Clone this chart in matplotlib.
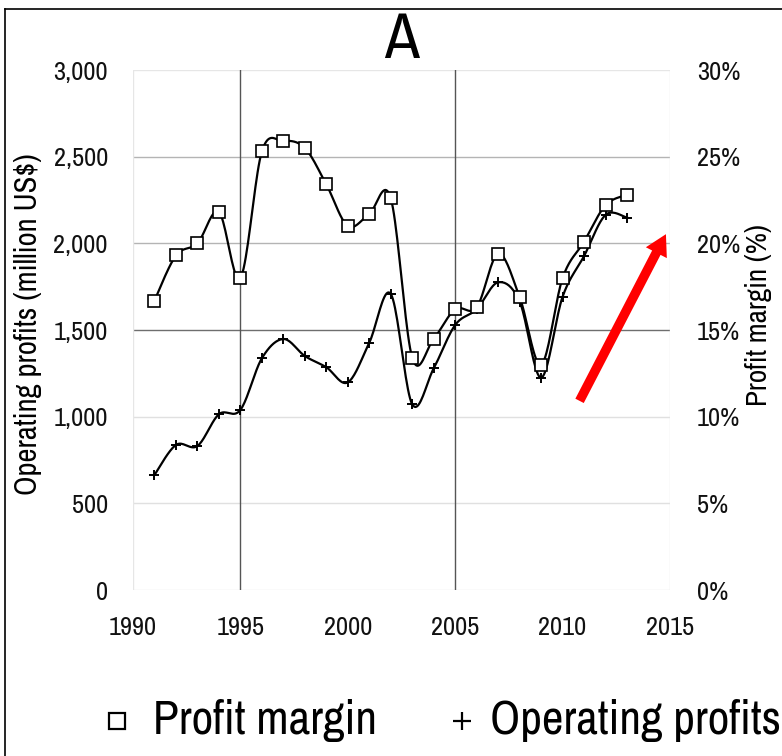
import numpy as np
import matplotlib
matplotlib.use("Agg")
import matplotlib.pyplot as plt
from matplotlib.lines import Line2D
from matplotlib.patches import FancyArrowPatch
from matplotlib.ticker import FuncFormatter
from matplotlib import font_manager

# pick a narrow/condensed sans font if installed
narrow = None
for f in font_manager.fontManager.ttflist:
    nm = f.name
    if any(k in nm for k in ('Narrow', 'Condensed')) and 'Mono' not in nm and 'Serif' not in nm:
        narrow = nm
        break
fams = ([narrow] if narrow else []) + ['Liberation Sans', 'DejaVu Sans']
plt.rcParams['font.family'] = fams
has_narrow = narrow is not None

years = [1991, 1992, 1993, 1994, 1995, 1996, 1997, 1998, 1999, 2000, 2001, 2002,
         2003, 2004, 2005, 2006, 2007, 2008, 2009, 2010, 2011, 2012, 2013]
profit_margin = [16.7, 19.3, 20.0, 21.8, 18.0, 25.3, 25.9, 25.5, 23.4, 21.0, 21.7, 22.6,
                 13.4, 14.5, 16.2, 16.3, 19.4, 16.9, 13.0, 18.0, 20.1, 22.2, 22.8]
operating_profits = [664, 837, 831, 1014, 1039, 1337, 1448, 1350, 1285, 1198, 1427, 1708,
                     1071, 1279, 1529, 1620, 1775, 1664, 1225, 1692, 1927, 2164, 2148]
x_ticks = [1990, 1995, 2000, 2005, 2010, 2015]
y_ticks = [0, 500, 1000, 1500, 2000, 2500, 3000]
pct_ticks = [0, 5, 10, 15, 20, 25, 30]
arrow_start = (2010.73, 1077)
arrow_end = (2014.87, 2067)


def smooth(x, y, n=20):
    """Excel-like smoothed line (uniform Catmull-Rom through the points)."""
    x = np.asarray(x, float)
    y = np.asarray(y, float)
    px = np.concatenate([[x[0]], x, [x[-1]]])
    py = np.concatenate([[y[0]], y, [y[-1]]])
    xs, ys = [], []
    t = np.linspace(0, 1, n, endpoint=False)
    for i in range(1, len(px) - 2):
        p0x, p1x, p2x, p3x = px[i - 1], px[i], px[i + 1], px[i + 2]
        p0y, p1y, p2y, p3y = py[i - 1], py[i], py[i + 1], py[i + 2]
        c1x = p1x + (p2x - p0x) / 6
        c1y = p1y + (p2y - p0y) / 6
        c2x = p2x - (p3x - p1x) / 6
        c2y = p2y - (p3y - p1y) / 6
        b0 = (1 - t) ** 3
        b1 = 3 * (1 - t) ** 2 * t
        b2 = 3 * (1 - t) * t ** 2
        b3 = t ** 3
        xs.append(b0 * p1x + b1 * c1x + b2 * c2x + b3 * p2x)
        ys.append(b0 * p1y + b1 * c1y + b2 * c2y + b3 * p2y)
    xs.append([x[-1]])
    ys.append([y[-1]])
    return np.concatenate(xs), np.concatenate(ys)


fs_tick = 19 if has_narrow else 15
fs_lab_l = 22 if has_narrow else 17
fs_lab_r = 21 if has_narrow else 16
fs_leg = 34 if has_narrow else 29
fs_title = 46 if has_narrow else 40

W, H = 782, 756
fig = plt.figure(figsize=(W / 100, H / 100), dpi=100)
ax = fig.add_axes([133 / W, 1 - 590 / H, (670 - 133) / W, (590 - 70) / H])
ax2 = ax.twinx()

ax.set_xlim(1990, 2015)
ax.set_ylim(0, 3000)
ax2.set_ylim(0, 30)
ax.set_xticks(x_ticks)
ax.set_yticks(y_ticks)
ax2.set_yticks(pct_ticks)

for a in (ax, ax2):
    for s in a.spines.values():
        s.set_visible(False)
    a.tick_params(length=0, labelsize=fs_tick, labelcolor='#111111')
ax.tick_params(axis='y', pad=18)
ax.tick_params(axis='x', pad=19)
ax2.tick_params(axis='y', pad=19.5)

ax.yaxis.set_major_formatter(FuncFormatter(lambda v, p: f"{int(v):,}"))
ax2.yaxis.set_major_formatter(FuncFormatter(lambda v, p: f"{int(v)}%"))

# gridlines
grid_col = {0: '#e6e6e6', 500: '#e0e0e0', 1000: '#e0e0e0', 1500: '#6e6e6e',
            2000: '#b4b4b4', 2500: '#b4b4b4', 3000: '#e6e6e6'}
for yv in y_ticks:
    ax.axhline(yv, color=grid_col[yv], lw=1.0, zorder=0)
for xv in x_ticks:
    if xv in (1995, 2005):
        ax.axvline(xv, color='#555555', lw=1.0, zorder=0)
    elif xv in (1990, 2015):
        ax.axvline(xv, color='#e6e6e6', lw=1.0, zorder=0)

# operating profits
sx, sy = smooth(years, operating_profits)
ax.plot(sx, sy, color='black', lw=1.6, zorder=3)
ax.plot(years, operating_profits, ls='none', marker='+', ms=7, mew=1.4, color='black', zorder=4)

# profit margin
sx2, sy2 = smooth(years, profit_margin)
ax2.plot(sx2, sy2, color='black', lw=1.6, zorder=3)
ax2.plot(years, profit_margin, ls='none', marker='s', ms=8, mew=1.2,
         mfc='white', mec='black', zorder=4)

ax.set_ylabel('Operating profits (million US$)', fontsize=fs_lab_l)
ax.yaxis.set_label_coords((42 - 133) / 537, (590 - 324) / 520)
ax2.set_ylabel('Profit margin (%)', fontsize=fs_lab_r)
ax2.yaxis.set_label_coords((745 - 133) / 537, (590 - 315) / 520)
ax.set_title('A', fontsize=fs_title, pad=9)

arrow = FancyArrowPatch(arrow_start, arrow_end,
                        arrowstyle='simple,head_length=1.5,head_width=1.7,tail_width=0.68',
                        mutation_scale=10, color='#ff0000', lw=0, zorder=5)
ax.add_patch(arrow)

# legend (manual placement)
ly = 1 - 721 / H
fig.add_artist(Line2D([117 / W], [ly], ls='none', marker='s', ms=11, mfc='white',
                      mec='black', mew=1.6, transform=fig.transFigure))
fig.text(153 / W, ly, 'Profit margin', fontsize=fs_leg, ha='left', va='center')
fig.add_artist(Line2D([462 / W], [ly], ls='none', marker='+', ms=13, mew=1.6,
                      color='black', transform=fig.transFigure))
fig.text(490 / W, ly, 'Operating profits', fontsize=fs_leg, ha='left', va='center')

# outer border (left and top)
fig.add_artist(Line2D([0.007, 0.007], [0, 0.988], color='black', lw=1.2, transform=fig.transFigure))
fig.add_artist(Line2D([0.007, 1.0], [0.988, 0.988], color='black', lw=1.2, transform=fig.transFigure))

fig.savefig('out.png', dpi=100)
